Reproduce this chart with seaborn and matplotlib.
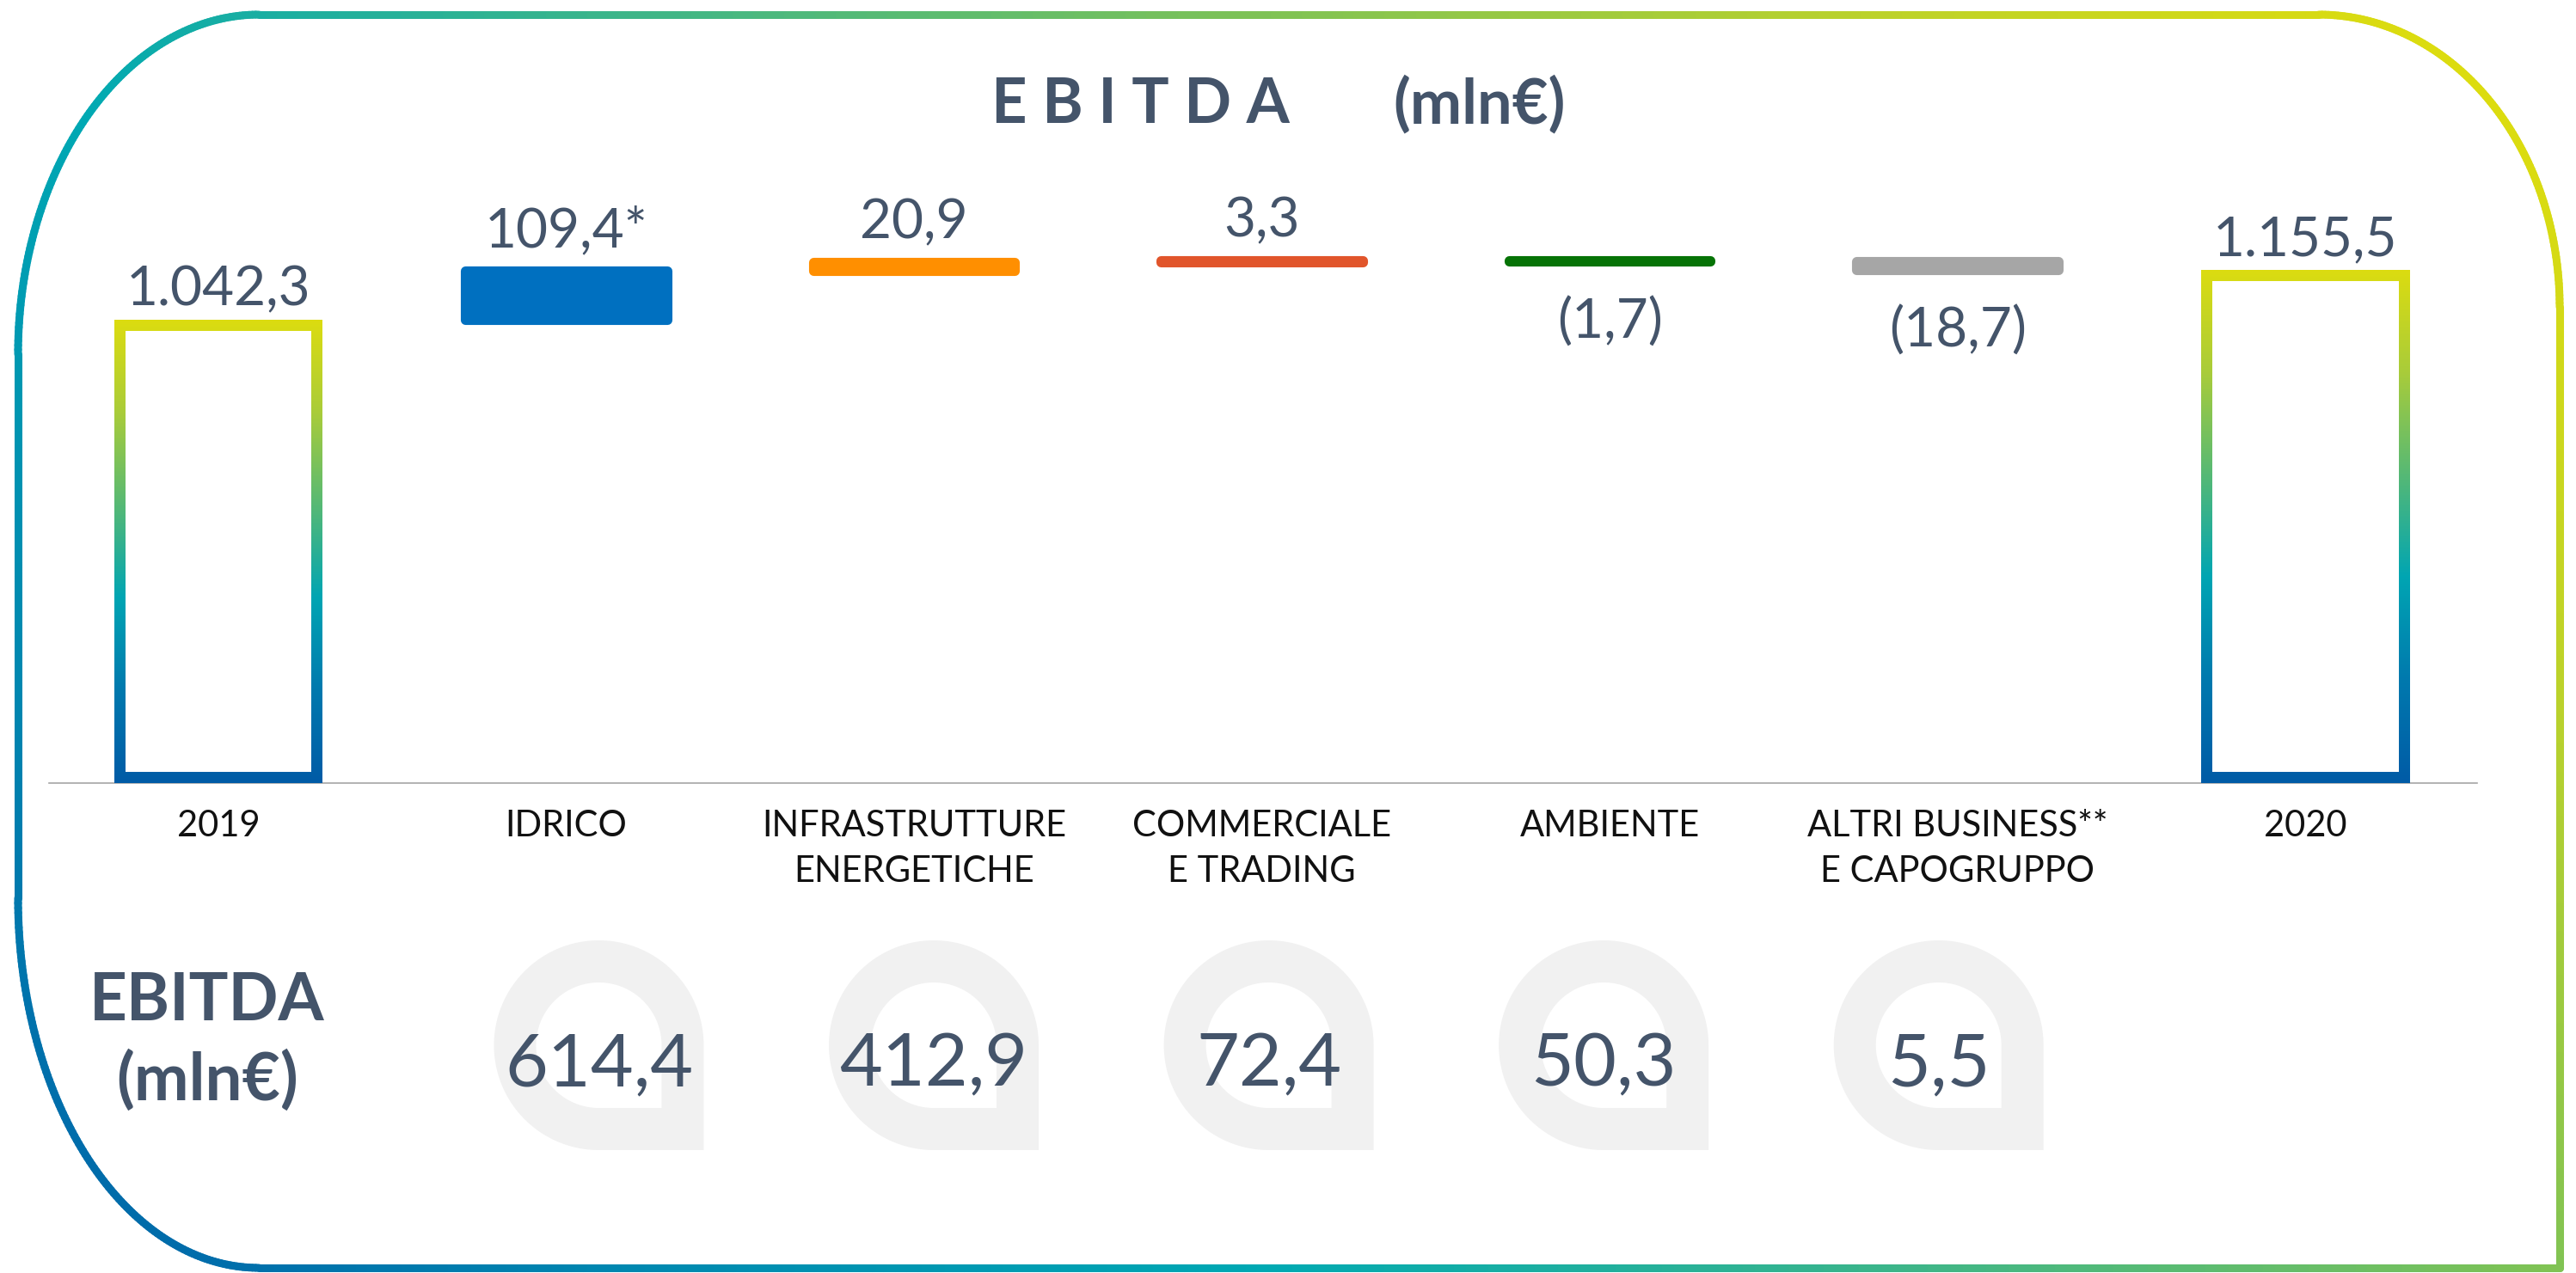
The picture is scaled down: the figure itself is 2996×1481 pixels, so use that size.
import numpy as np
import pandas as pd
import seaborn as sns
import matplotlib.pyplot as plt
from matplotlib.collections import LineCollection
from matplotlib.colors import LinearSegmentedColormap
from matplotlib.patches import PathPatch
from matplotlib.path import Path

# --- data ---
categories = ["2019", "IDRICO", "INFRASTRUTTURE\nENERGETICHE", "COMMERCIALE\nE TRADING",
              "AMBIENTE", "ALTRI BUSINESS**\nE CAPOGRUPPO", "2020"]
values = [1042.3, 109.4, 20.9, 3.3, -1.7, -18.7, 1155.5]
kinds = ["total", "delta", "delta", "delta", "delta", "delta", "total"]
label_marks = ["", "*", "", "", "", "", ""]
delta_colors = ["#0070C0", "#FF8F00", "#E1552B", "#067306", "#A6A6A6"]

segment_idx = [1, 2, 3, 4, 5]
segment_ebitda = [614.4, 412.9, 72.4, 50.3, 5.5]

SLATE = "#44546A"


def it_num(v):
    s = f"{abs(v):,.1f}".replace(",", " ").replace(".", ",").replace(" ", ".")
    return f"({s})" if v < 0 else s


# waterfall bottoms
bottoms = []
running = 0.0
for v, k in zip(values, kinds):
    if k == "total":
        bottoms.append(0.0)
        running = v
    else:
        bottoms.append(running)
        running += v

df = pd.DataFrame({"cat": categories, "value": values, "bottom": bottoms, "kind": kinds})

sns.set_theme(style="white")
plt.rcParams["font.family"] = ["Lato", "DejaVu Sans"]

fig = plt.figure(figsize=(29.96, 14.81), dpi=100)
bg = fig.add_axes([0, 0, 1, 1], zorder=0)
bg.set_xlim(0, 2996)
bg.set_ylim(1481, 0)
bg.axis("off")

ax = fig.add_axes([57 / 2996, 570 / 1481, (2881 - 57) / 2996, (1281 - 570) / 1481], zorder=1)
ax.patch.set_alpha(0)

# totals (hollow, gradient frame added below)
tot = df[df["kind"] == "total"]
n0 = len(ax.patches)
sns.barplot(data=tot, x="cat", y="value", order=categories, color="white",
            width=0.6, linewidth=0, errorbar=None, ax=ax)
tot_bars = ax.patches[n0:]

# deltas (floating)
dlt = df[df["kind"] == "delta"]
n1 = len(ax.patches)
sns.barplot(data=dlt, x="cat", y="value", order=categories, color="grey",
            width=0.58, errorbar=None, bottom=dlt["bottom"].tolist(), ax=ax)
for p, c in zip(ax.patches[n1:], delta_colors):
    p.set_facecolor(c)
    p.set_edgecolor(c)
    p.set_linewidth(8)
    p.set_joinstyle("round")

ax.set_xlim(-0.487, 6.494)
ax.set_ylim(0, 1375)

# gradient frame on total bars
bar_cmap = LinearSegmentedColormap.from_list(
    "bar", ["#005ba6", "#0079ae", "#00a5b3", "#56b975", "#a9cc3a", "#dcdc10"])
inv = ax.transData.inverted()
d = inv.transform((13, 13)) - inv.transform((0, 0))
tx, ty = abs(d[0]), abs(d[1])
grad = np.linspace(0, 1, 256).reshape(-1, 1)
for p in tot_bars:
    x0, y0 = p.get_x(), p.get_y()
    x1, y1 = x0 + p.get_width(), y0 + p.get_height()
    verts = [(x0, y0), (x1, y0), (x1, y1), (x0, y1), (x0, y0),
             (x0 + tx, y0 + ty), (x0 + tx, y1 - ty), (x1 - tx, y1 - ty), (x1 - tx, y0 + ty), (x0 + tx, y0 + ty)]
    codes = [Path.MOVETO, Path.LINETO, Path.LINETO, Path.LINETO, Path.CLOSEPOLY] * 2
    frame = PathPatch(Path(verts, codes), transform=ax.transData, facecolor="none", edgecolor="none")
    ax.add_patch(frame)
    im = ax.imshow(grad, cmap=bar_cmap, origin="lower", extent=(x0, x1, y0, y1),
                   aspect="auto", interpolation="bicubic", zorder=3)
    im.set_clip_path(frame)

ax.set_xlim(-0.487, 6.494)
ax.set_ylim(0, 1375)

# value labels
for i, (v, b, k, mark) in enumerate(zip(values, bottoms, kinds, label_marks)):
    txt = it_num(v) + mark
    if v >= 0:
        ax.annotate(txt, (i, b + v), xytext=(0, 12 if k == "total" else 20), textcoords="offset points",
                    ha="center", va="baseline", fontsize=46, color=SLATE)
    else:
        ax.annotate(txt, (i, b + v), xytext=(0, -30), textcoords="offset points",
                    ha="center", va="top", fontsize=46, color=SLATE)

sns.despine(ax=ax, left=True)
ax.spines["bottom"].set_color("#a6a6a6")
ax.spines["bottom"].set_linewidth(1.2)
ax.set_yticks([])
ax.set_xlabel("")
ax.set_ylabel("")
ax.tick_params(axis="x", length=0, pad=22, labelsize=30, labelcolor="#111111")
for lbl in ax.get_xticklabels():
    lbl.set_linespacing(1.5)

# title
bg.text(1326, 143, "E B I T D A", ha="center", va="baseline", fontsize=52,
        fontweight="bold", color=SLATE)
bg.text(1721, 143, "(mln€)", ha="center", va="baseline", fontsize=52,
        fontweight="bold", color=SLATE)

# bottom row: EBITDA per business
bg.text(241, 1187, "EBITDA", ha="center", va="baseline", fontsize=55, fontweight="bold", color=SLATE)
bg.text(241, 1280, "(mln€)", ha="center", va="baseline", fontsize=55, fontweight="bold", color=SLATE)


def drop_ring(cx, cy, R, r):
    def shape(rad):
        t = np.radians(np.linspace(0, 270, 120))
        pts = np.column_stack([cx + rad * np.cos(t), cy - rad * np.sin(t)])
        return np.vstack([pts, [[cx + rad, cy + rad], [cx + rad, cy]]])
    outer = shape(R)
    inner = shape(r)[::-1]
    verts = np.vstack([outer, outer[:1], inner, inner[:1]])
    codes = ([Path.MOVETO] + [Path.LINETO] * (len(outer) - 1) + [Path.CLOSEPOLY]
             + [Path.MOVETO] + [Path.LINETO] * (len(inner) - 1) + [Path.CLOSEPOLY])
    return Path(verts, codes)


# the ring row is slightly tighter than the bar row
x_mid = ax.transData.transform((3, 0))[0]
for i, val in zip(segment_idx, segment_ebitda):
    px = ax.transData.transform((i, 0))[0]
    cx = x_mid + (px - x_mid) * 0.963 + 8
    bg.add_patch(PathPatch(drop_ring(cx, 1216, 122, 73), facecolor="#F1F1F1", edgecolor="none"))
    bg.text(cx, 1263, it_num(val), ha="center", va="baseline", fontsize=62, color=SLATE)

# gradient rounded border
border_cmap = LinearSegmentedColormap.from_list(
    "border", ["#0060a8", "#0088b0", "#00a9b3", "#3cb58a", "#7dc256", "#bcd22a", "#e2de0a"])
xL, xR, yT, yB = 21, 2977, 17, 1475


def arc(cx, cy, rx, ry, a0, a1, n=120):
    t = np.radians(np.linspace(a0, a1, n))
    return np.column_stack([cx + rx * np.cos(t), cy - ry * np.sin(t)])


def line(p0, p1, n=200):
    return np.column_stack([np.linspace(p0[0], p1[0], n), np.linspace(p0[1], p1[1], n)])


tl, tr, bl = (280, 395), (280, 340), (280, 430)
pts = np.vstack([
    line((xL + tl[0], yT), (xR - tr[0], yT)),
    arc(xR - tr[0], yT + tr[1], tr[0], tr[1], 90, 0),
    line((xR, yT + tr[1]), (xR, yB)),
    line((xR, yB), (xL + bl[0], yB)),
    arc(xL + bl[0], yB - bl[1], bl[0], bl[1], 270, 180),
    line((xL, yB - bl[1]), (xL, yT + tl[1])),
    arc(xL + tl[0], yT + tl[1], tl[0], tl[1], 180, 90),
])
segs = np.stack([pts[:-1], pts[1:]], axis=1)
mid = segs.mean(axis=1)
tval = np.clip(0.68 * mid[:, 0] / 2996 + 0.34 * (1481 - mid[:, 1]) / 1481, 0, 1)
bg.add_collection(LineCollection(segs, colors=border_cmap(tval), linewidths=6.5, capstyle="round"))

fig.savefig("out.png", dpi=100)
